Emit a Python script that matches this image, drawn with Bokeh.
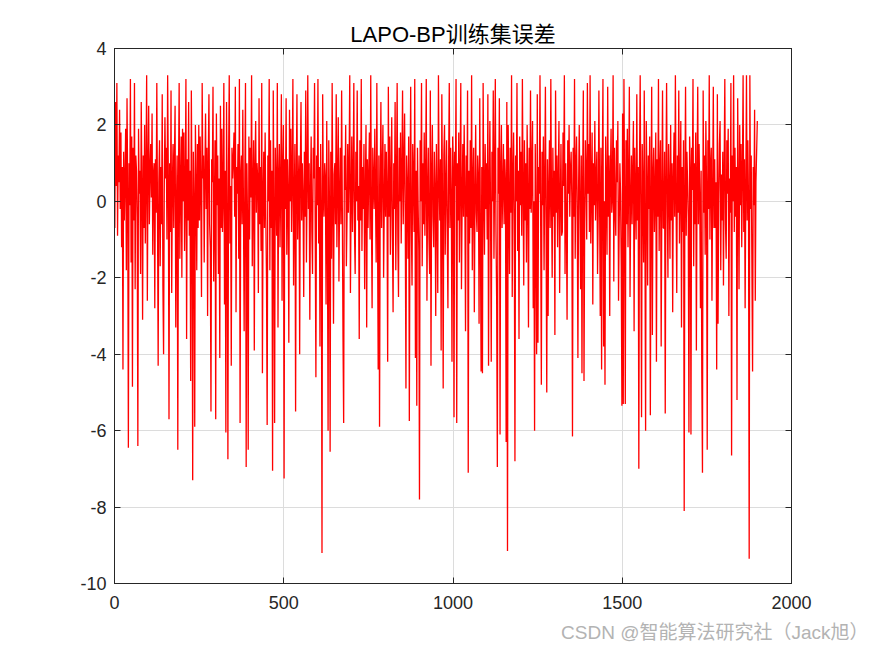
import numpy as np
from bokeh.plotting import figure
from bokeh.models import Range1d, FixedTicker, LinearAxis, Title, CustomJSTickFormatter
from bokeh.embed import file_html
from bokeh.resources import INLINE

# Training-set error, sampled every 2 samples (sample index 1, 3, 5, ... 1899)
err = [
    -0.7, 2.6, 0.4, 3.1, -0.9, 1.2, 0.5, 2.4, -0.2, 1.8, -1.2, 0.9, -4.4, 1.3, -0.5, 0.6, 1.9, -1.8, 2.7, 0.3, -6.45, 1.0, -0.1, 3.2, -1.6,
    1.7, -4.85, 1.4, -0.5, 3.1, -2.3, 1.2, 0.8, -0.4, -6.4, 1.9, 0.2, 0.8, -1.9, 2.6, 0.4, -3.1, 1.2, -0.7, 2.0, -1.1, 0.6, 3.3, -2.6, 0.9,
    2.5, -0.6, 0.8, 1.5, 0.1, 2.3, -1.4, 0.7, 1.0, -2.8, 1.1, -0.3, 3.1, -0.3, -4.3, 0.5, 1.6, -1.7, 0.9, -0.6, 2.8, -2.2, -4.0, 0.3, 2.2,
    0.6, 1.4, -1.0, 3.3, 0.7, -5.7, 1.0, -0.8, 2.9, -2.4, 0.4, 1.5, -0.7, 1.1, 2.5, -3.3, -0.2, 1.2, -6.5, 0.6, 3.1, -1.5, 0.4, 1.7, -2.0,
    1.9, 0.0, 1.8, -1.3, 0.2, 3.2, -3.6, 1.1, -0.5, 2.6, -0.9, 0.8, -4.7, 2.9, -0.1, -7.3, 1.3, 0.0, -5.9, 2.0, 0.4, -1.8, 1.5, -0.7, 2.0,
    -0.5, 1.7, 0.3, -2.5, 3.1, 0.6, 1.2, -1.6, 0.7, 2.3, -0.2, 1.4, -3.0, 1.0, 2.8, -0.6, -1.2, -5.5, 1.1, 0.5, 3.0, -2.1, -0.2, 1.6, -5.7,
    2.3, -0.1, 1.2, -1.9, 0.6, -4.1, 2.5, -0.7, 1.9, -0.8, 0.2, 3.1, -2.7, 0.8, -6.05, 2.6, -0.3, -6.75, 1.0, 3.3, -1.1, 0.4, -4.3, 1.4, 0.6,
    1.1, 1.8, -0.4, 3.0, -2.9, 0.9, 0.2, 1.5, -1.5, 3.2, -5.8, 0.7, 1.2, -0.6, 2.4, -0.2, -3.4, 0.5, 3.1, -6.95, 1.0, -0.5, -6.5, 1.7, -1.0,
    1.4, 0.1, 3.3, -1.7, 0.3, 1.6, -3.9, 0.9, 2.1, -0.3, 1.0, 0.6, -2.4, 2.7, -0.6, 0.9, -1.3, 3.1, -4.5, 0.2, 1.3, -0.7, 1.8, -0.4, -2.0,
    -5.85, 1.2, 0.0, 3.2, -1.8, 1.6, -0.7, 0.8, -7.05, 2.9, -0.3, -5.8, 1.4, 0.4, -0.9, 3.1, -3.3, 0.6, 1.5, -1.2, 0.5, 2.8, -2.6, 0.9, 2.0,
    -7.25, 1.1, -0.2, 2.7, -1.4, 1.1, 0.2, -3.7, 2.4, 0.0, 1.9, -0.8, 0.7, 3.2, -2.2, 0.0, 1.5, -5.5, 0.5, 2.8, -1.0, 0.4, 1.2, -4.0, 0.8,
    2.6, -0.5, 1.0, 0.1, -2.5, 1.3, -0.4, 2.9, -1.6, 0.4, 3.3, -0.2, 1.0, -3.1, 0.3, 1.7, -0.8, -1.9, 1.4, 0.6, 3.1, -0.9, -4.6, 1.2, -0.1,
    3.2, -1.1, 0.9, -3.8, 1.5, -0.3, -9.2, 2.8, 0.2, -0.4, 1.0, 0.6, -2.7, 2.1, -0.7, -6.0, 1.6, 0.0, -6.55, 1.3, -1.5, 3.1, -0.2, -3.2, 0.7,
    1.0, -0.6, 2.8, -1.2, 0.5, 2.2, -2.1, 0.1, 1.4, -0.6, 2.9, -0.1, -3.5, -5.8, 1.2, 0.3, 2.0, -1.7, -0.4, 1.5, -0.3, 0.8, 3.3, -2.4, 0.0,
    1.7, -0.8, 0.6, 3.1, -0.8, -1.9, 1.3, 0.0, 2.9, -0.5, 0.4, -3.6, 1.6, -0.5, 3.2, -1.3, 0.9, -0.2, 1.5, -2.3, 0.2, 2.0, -3.3, 1.1, -0.7,
    0.7, 1.8, -1.0, 3.3, -0.3, -2.8, 1.4, 0.5, -0.2, 1.9, 0.1, -1.6, 3.1, -0.6, -4.4, 1.2, -5.9, 0.3, 2.6, -0.7, 0.8, 2.0, -2.0, -0.1, 1.5,
    -0.4, 1.3, 0.2, -4.2, 3.0, -0.4, 1.7, -1.4, 0.5, 2.2, -0.9, -2.9, 1.0, -0.2, 2.6, -1.8, 0.3, 3.1, -0.9, -2.5, 1.4, 0.0, 1.8, -1.1, 0.7,
    2.9, -0.6, 0.9, 2.3, -0.5, -4.9, 1.2, 0.4, -1.5, 1.7, -5.75, 0.1, 3.0, -0.7, -2.2, 1.5, 0.6, -0.8, 3.2, -4.1, 0.8, -5.35, 1.4, -0.1, -1.3,
    -7.8, 1.6, 0.0, 3.1, -1.7, 1.0, -0.6, 1.8, -0.9, 0.5, 3.2, -2.6, 0.2, 1.4, -1.0, -1.9, 2.9, -4.3, 0.7, 2.0, -0.4, -1.2, 1.3, 0.3, -3.0,
    1.5, -0.2, -2.4, 3.3, 0.5, -0.5, 1.1, -3.9, 2.8, 0.0, -4.9, 1.2, 2.0, -1.4, 0.3, 1.6, -0.8, -2.8, 0.9, 3.1, -0.7, 1.4, 0.1, -4.2, 1.7,
    0.9, -5.65, 1.3, 0.4, 3.2, -5.8, 1.0, -0.5, 1.8, -1.6, 0.7, 3.1, -2.3, 0.0, 1.5, -0.4, 2.0, 0.2, -3.4, 1.2, -0.4, 2.9, -7.1, 0.8, -1.1,
    1.6, -0.7, 3.3, -1.8, 0.5, 1.4, -2.9, 0.1, 2.0, -0.3, -0.8, 1.2, 0.6, -3.2, 2.7, -0.9, -4.45, 0.9, -4.5, 3.1, 0.3, -1.4, 1.5, -0.2, 1.0,
    -1.0, 2.8, -4.3, 0.4, 2.1, -0.4, -4.2, 1.3, 0.0, 2.9, -1.5, 0.7, 3.2, -0.8, -2.6, -6.95, 1.4, 0.2, 2.7, -6.1, 0.9, 2.0, -0.7, 0.3, 1.5,
    -0.6, 1.1, 0.5, -6.3, 2.6, -9.15, 2.0, 0.1, -1.9, 1.4, -0.3, 3.3, -2.5, 0.6, 1.8, -0.5, -6.8, 1.2, 0.0, 3.1, -1.3, 0.8, -3.6, 1.7, -0.1,
    1.3, -0.9, 3.2, 0.3, -2.2, 1.6, -0.5, 1.0, -1.6, 2.0, 0.2, -3.3, 1.4, -0.2, 2.9, -0.3, 0.7, 2.1, -2.8, 0.0, -6.0, 1.5, -0.8, -4.0, 2.8,
    -3.7, 0.9, 0.2, 3.3, -0.6, -4.8, 1.3, -0.1, 1.7, -1.8, 0.5, 3.0, -0.7, -5.0, 1.1, -3.0, 0.4, 1.6, -0.7, 3.2, 0.0, -2.0, 1.4, -0.4, 0.8,
    -3.5, 2.9, -0.3, 1.2, -1.2, 0.6, 2.1, -2.4, 0.0, 1.5, -0.9, -0.8, 1.8, 0.4, 3.3, -1.9, 1.0, -0.5, -3.1, 1.6, 0.2, 2.0, -0.4, 0.8, 1.3,
    0.1, -6.15, 1.4, -0.4, 3.2, -1.5, 0.9, 1.7, -0.2, -4.1, 0.3, 2.0, -0.2, -2.3, 1.2, -4.5, 0.5, 2.9, -4.7, -0.6, 1.6, 0.7, -1.0, 3.1, 0.2,
    1.5, -0.8, 3.3, -1.1, 0.4, 1.8, -2.7, 1.0, -0.1, 2.1, -0.5, 0.6, 1.3, -1.9, -0.3, 2.9, 0.1, -3.0, 1.4, -4.4, 0.8, 3.2, -3.8, 0.0, -4.8,
    1.7, 0.3, -1.4, 3.0, -0.4, 1.2, -3.0, 0.7, 1.9, -0.3, 0.1, 3.3, -2.1, 1.4, -0.2, -0.9, 1.6, 0.5, 2.1, -2.6, -0.7, 1.0, 0.2, -1.7, -5.35,
    2.3, -5.3, 3.2, 0.0, -5.3, 1.6, -0.6, 1.9, -1.2, 0.6, 3.0, -2.5, -0.1, 1.2, -0.6, 0.8, 2.1, -3.4, 1.4, 0.1, -1.0, 2.8, -0.5, 0.9, -7.0,
    1.0, 3.3, -0.3, -5.65, 1.5, 0.3, -1.6, 2.9, -0.8, -6.0, 2.1, 0.5, -2.2, 1.2, -0.2, 1.7, -5.6, 0.0, 3.0, -3.5, 0.7, 1.4, -0.8, 0.2, 1.8,
    -4.2, 1.1, -0.4, 3.2, -1.3, 0.8, 1.6, -3.8, 0.1, 2.9, -0.7, -0.7, 1.3, -5.55, 0.5, 3.1, -0.1, -2.0, 1.5, 0.3, -1.5, 2.0, -0.5, 1.0, -2.9,
    0.6, 1.8, -0.4, 3.3, 0.0, -2.4, 1.2, -0.3, 2.9, -1.1, 0.4, 2.1, -3.3, 0.9, -0.8, 1.6, -8.1, 0.2, 3.0, -0.9, 1.3, 0.5, -0.4, -6.05, 1.7,
    0.9, -6.1, 1.4, 0.3, 3.2, -1.7, 1.0, -0.6, 1.8, -3.9, 0.6, 3.0, -0.6, 1.5, 0.1, -2.8, 0.8, -4.5, -7.1, 2.9, -0.3, 1.2, -1.4, 2.1, 0.4,
    -6.5, 1.6, -0.2, 3.3, -1.0, 0.9, 1.4, -2.6, 0.2, 3.0, -0.7, 1.1, -0.7, 0.5, -4.4, 2.8, -3.2, 0.0, 1.5, 2.1, -1.8, 0.7, -0.5, 1.3, -2.2,
    0.8, 3.2, -0.6, -1.5, 1.6, 0.2, 1.9, -3.0, 0.6, -0.3, 3.1, -6.65, 1.2, 0.0, 3.3, -0.8, 1.4, -0.4, 0.9, -5.2, 2.7, 0.4, -2.3, 2.0, -0.1,
    1.5, -1.2, 0.7, 3.3, -0.8, 1.1, -2.8, 0.3, 3.3, -0.5, 1.6, 0.0, -9.35, 3.3, -0.2, 1.2, -1.6, -4.45, 0.9, -0.1, 2.4, -2.6, 0.5, 1.3, 2.1,
]
sample_idx = np.arange(1, 2 * len(err), 2)

x_ticks = [0, 500, 1000, 1500, 2000]
y_ticks = [-10, -8, -6, -4, -2, 0, 2, 4]

TITLE = "LAPO-BP训练集误差"
WATERMARK = "CSDN @智能算法研究社（Jack旭）"

FONT = "Liberation Sans, Noto Sans CJK SC"
AX = "#262626"

p = figure(width=875, height=656, output_backend="svg", toolbar_location=None,
           x_range=Range1d(0, 2000), y_range=Range1d(-10, 4),
           min_border_left=114, min_border_right=84,
           min_border_top=48, min_border_bottom=73,
           background_fill_color="white", border_fill_color="white")

p.title.text = TITLE
p.title.align = "center"
p.title.text_font = FONT
p.title.text_font_size = "22px"
p.title.text_font_style = "normal"
p.title.text_color = "black"
p.title.standoff = 4

p.line(sample_idx, err, line_color="#ff0000", line_width=1.3)

def style_axis(ax, ticks, show_labels=True):
    ax.ticker = FixedTicker(ticks=ticks)
    ax.major_tick_in = 6
    ax.major_tick_out = 0
    ax.minor_tick_line_color = None
    ax.axis_line_color = AX
    ax.major_tick_line_color = AX
    ax.axis_line_width = 1
    ax.major_label_text_font = "Liberation Sans"
    ax.major_label_text_font_size = "18px"
    ax.major_label_text_color = AX
    if show_labels:
        ax.major_label_overrides = {t: str(t) for t in ticks}
    else:
        ax.formatter = CustomJSTickFormatter(code="return '';")
        ax.major_label_standoff = 0

style_axis(p.xaxis[0], x_ticks)
style_axis(p.yaxis[0], y_ticks)
p.xaxis[0].major_label_standoff = 12
p.yaxis[0].major_label_standoff = 8

top = LinearAxis()
style_axis(top, x_ticks, show_labels=False)
p.add_layout(top, "above")
right = LinearAxis()
style_axis(right, y_ticks, show_labels=False)
p.add_layout(right, "right")

p.xgrid.ticker = FixedTicker(ticks=x_ticks)
p.ygrid.ticker = FixedTicker(ticks=y_ticks)
p.grid.grid_line_color = "#dcdcdc"
p.grid.grid_line_width = 1
p.outline_line_color = AX

wm = Title(text=WATERMARK, align="right", text_font=FONT, text_font_size="19px",
           text_font_style="normal", text_color="#b3b3b3", offset=-77, standoff=16)
p.add_layout(wm, "below")

open("out.html", "w").write(file_html(p, INLINE))
